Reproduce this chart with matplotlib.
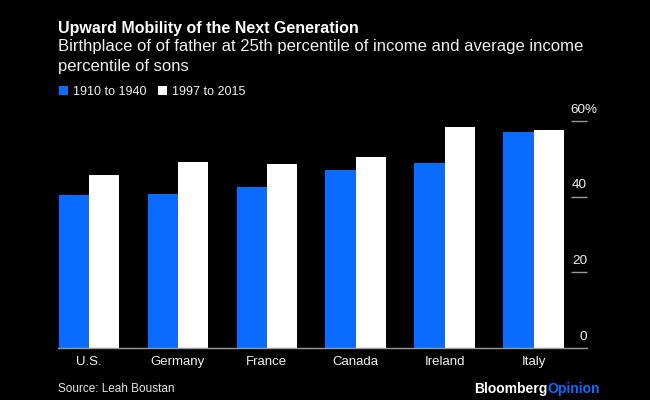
import matplotlib
matplotlib.use("Agg")
import matplotlib.pyplot as plt
import numpy as np

plt.rcParams["font.family"] = ["Liberation Sans", "DejaVu Sans"]

# ---------- Data ----------
pays = ["U.S.", "Germany", "France", "Canada", "Ireland", "Italy"]
periode_1 = [40.4, 40.7, 42.5, 47.0, 48.9, 57.1]
periode_2 = [45.7, 49.1, 48.7, 50.5, 58.4, 57.5]
noms_series = ["1910 to 1940", "1997 to 2015"]
graduations = [20, 40, 60]
etiquettes_y = ["0", "20", "40", "60%"]

# ---------- Styles ----------
bleu = "#0a6cff"
blanc = "#ffffff"
gris = "#9a9a9a"
W, H = 650, 400

fig = plt.figure(figsize=(W / 100, H / 100), dpi=100, facecolor="black")
ax = fig.add_axes([58 / W, (H - 348) / H, (587 - 58) / W, (348 - 90) / H], facecolor="black")

# ---------- Bars ----------
x = np.arange(len(pays))
larg = 0.341
b1 = ax.bar(x - larg / 2, periode_1, larg, color=bleu, label=noms_series[0])
b2 = ax.bar(x + larg / 2, periode_2, larg, color=blanc, label=noms_series[1])

ax.set_xlim(-0.349, 5.60)
ax.set_ylim(0, 258 / 3.785)

# ---------- Axes ----------
for s in ["top", "left", "right"]:
    ax.spines[s].set_visible(False)
ax.spines["bottom"].set_color(gris)
ax.spines["bottom"].set_linewidth(1.0)

ax.set_xticks(x)
ax.set_xticklabels(pays, color="#f0f0f0", fontsize=9.5)
ax.tick_params(axis="x", length=0, pad=6)

ax.yaxis.tick_right()
ax.set_yticks(graduations)
ax.set_yticklabels([])
ax.tick_params(axis="y", direction="in", length=11.5, width=1.0, color=gris)

# y labels sit above the ticks
trans = ax.get_yaxis_transform()
for v, lab in zip([0] + graduations, etiquettes_y):
    if lab.endswith("%"):
        ax.text(0.9695, v + 3.0, lab, transform=trans, color="#f0f0f0", fontsize=9.7, ha="left", va="center")
    else:
        ax.text(1.0, v + 3.0, lab, transform=trans, color="#f0f0f0", fontsize=9.7, ha="right", va="center")

# ---------- Titles ----------
fig.text(58 / W, 1 - 28 / H, "Upward Mobility of the Next Generation", color="white",
         fontsize=11.5, fontweight="bold", va="center", ha="left")
fig.text(58 / W, 1 - 47 / H, "Birthplace of of father at 25th percentile of income and average income",
         color="#f0f0f0", fontsize=12.0, va="center", ha="left")
fig.text(58 / W, 1 - 66 / H, "percentile of sons", color="#f0f0f0", fontsize=12.0, va="center", ha="left")

# ---------- Legend ----------
fig.legend(handles=[b1, b2], labels=noms_series, ncol=2, frameon=False,
           loc="center left", bbox_to_anchor=(59 / W, 1 - 92 / H), fontsize=9.0,
           labelcolor="#f0f0f0", handlelength=0.72, handleheight=0.72,
           handletextpad=0.4, columnspacing=0.88, borderpad=0, borderaxespad=0)

# ---------- Footer ----------
fig.text(58 / W, 1 - 389 / H, "Source: Leah Boustan", color="#e6e6e6", fontsize=8.5, va="center", ha="left")
fig.text(547.5 / W, 1 - 389 / H, "Bloomberg", color="white", fontsize=10.0, fontweight="bold", va="center", ha="right")
fig.text(547.5 / W, 1 - 389 / H, "Opinion", color=bleu, fontsize=10.0, fontweight="bold", va="center", ha="left")

fig.savefig("out.png", dpi=100, facecolor="black")
